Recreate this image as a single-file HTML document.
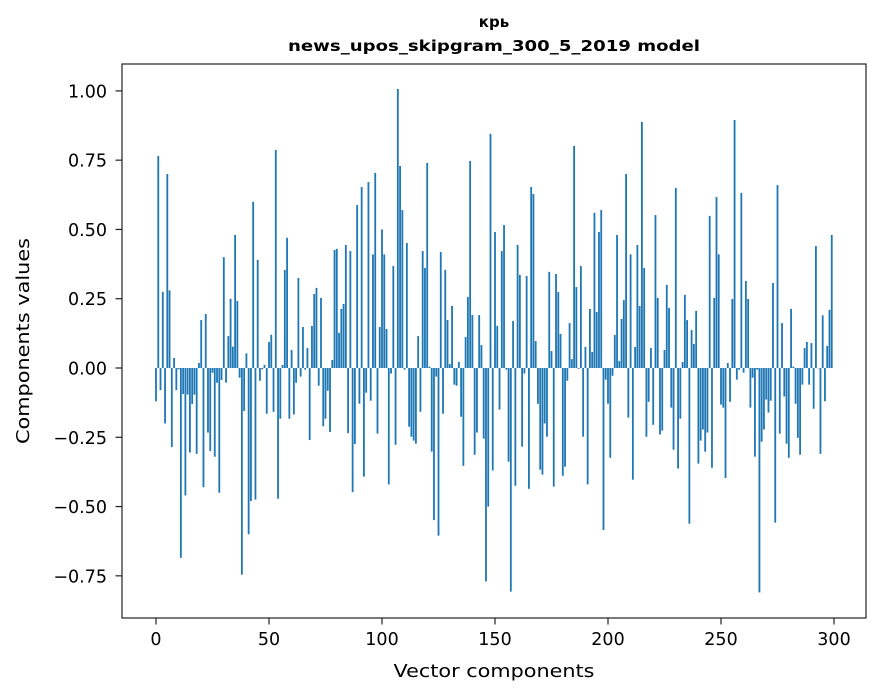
<!DOCTYPE html>
<html><head><meta charset="utf-8">
<style>
html,body{margin:0;padding:0;background:#fff;}
svg{display:block;font-family:"DejaVu Sans","Liberation Sans",sans-serif;}
</style></head>
<body>
<svg id="chart" width="880" height="696" xmlns="http://www.w3.org/2000/svg">
<rect width="880" height="696" fill="#fff"/>
<text x="494" y="27" text-anchor="middle" font-size="15" font-weight="bold">крь</text>
<text x="494" y="51" text-anchor="middle" font-size="15" font-weight="bold" textLength="412" lengthAdjust="spacingAndGlyphs">news_upos_skipgram_300_5_2019 model</text>
<g id="bars"></g>
<g id="yticks"></g>
<g id="xticks"></g>
<rect x="122" y="64" width="744" height="554" fill="none" stroke="#222" stroke-width="1.2"/>
<text x="494" y="677" text-anchor="middle" font-size="18" textLength="201" lengthAdjust="spacingAndGlyphs">Vector components</text>
<text x="0" y="0" transform="translate(29,341) rotate(-90)" text-anchor="middle" font-size="18" textLength="206" lengthAdjust="spacingAndGlyphs">Components values</text>
</svg>
<script>
const values = [-0.12,0.765,-0.08,0.275,-0.2,0.70,0.28,-0.285,0.036,-0.08,
-0.005,-0.685,-0.094,-0.46,-0.096,-0.305,-0.13,-0.096,-0.31,0.018,
0.173,-0.43,0.195,-0.233,-0.3,-0.017,-0.32,-0.053,-0.45,-0.043,
0.40,-0.053,0.115,0.25,0.077,0.48,0.242,-0.035,-0.746,-0.155,
0.053,-0.6,-0.48,0.60,-0.475,0.39,-0.046,-0.005,0.011,-0.165,
0.094,0.12,-0.158,0.787,-0.472,-0.183,0.011,0.354,0.47,-0.183,
0.065,-0.168,-0.053,0.325,-0.031,0.148,-0.006,0.072,-0.26,0.152,
0.267,0.289,-0.064,0.253,-0.21,-0.183,-0.082,-0.231,0.029,0.426,
0.43,0.126,0.213,0.231,0.444,-0.235,0.422,-0.448,-0.274,0.588,
-0.129,0.653,-0.392,-0.089,0.671,-0.118,0.41,0.704,-0.237,0.148,
0.50,0.41,0.141,-0.42,-0.02,0.368,-0.277,1.007,0.729,0.57,
-0.006,0.451,-0.212,-0.248,-0.262,-0.273,0.115,-0.158,0.422,0.361,
0.74,0.005,-0.302,-0.549,-0.031,-0.605,0.419,-0.165,0.354,0.173,
0.014,0.224,-0.06,-0.064,0.022,-0.176,-0.353,0.112,0.256,0.747,
0.191,-0.313,-0.233,0.191,0.083,-0.255,-0.77,-0.5,0.845,-0.37,
0.491,0.152,-0.15,0.422,0.516,-0.006,-0.338,-0.807,0.17,-0.425,
0.444,0.336,-0.284,-0.02,0.332,-0.436,0.653,0.628,0.097,-0.129,
-0.367,-0.385,-0.2,-0.248,0.347,0.061,-0.428,0.339,0.274,0.123,
-0.389,-0.356,-0.046,0.162,0.032,0.801,0.292,-0.003,0.368,-0.248,
0.076,-0.42,0.213,0.058,0.56,0.202,0.491,0.57,-0.585,-0.042,
-0.129,-0.324,-0.028,0.119,0.48,0.025,0.177,0.245,0.70,-0.179,
0.41,-0.403,0.076,0.444,0.224,0.888,0.361,-0.248,-0.122,0.072,
-0.205,0.552,0.253,-0.24,-0.226,0.065,0.3,0.217,-0.143,-0.295,
0.65,-0.363,-0.183,0.022,0.264,0.173,-0.562,0.137,0.087,0.206,
-0.345,-0.262,-0.222,-0.302,-0.233,0.549,-0.36,0.253,0.617,0.41,
-0.132,-0.143,-0.397,0.018,-0.122,0.249,0.895,-0.042,-0.006,0.632,
-0.017,0.314,0.249,-0.143,-0.035,-0.32,-0.006,-0.81,-0.266,-0.222,
-0.114,-0.161,-0.118,0.307,-0.558,0.66,-0.237,0.162,-0.103,-0.273,
-0.324,0.213,0.005,-0.129,-0.252,-0.313,-0.06,0.072,0.094,-0.06,
0.09,-0.147,0.44,0,-0.31,0.19,-0.12,0.08,0.21,0.48];
const yTickValues = [-0.75,-0.5,-0.25,0,0.25,0.5,0.75,1.0];
const yTickLabels = ["−0.75","−0.50","−0.25","0.00","0.25","0.50","0.75","1.00"];
const xTickValues = [0,50,100,150,200,250,300];
const xTickLabels = ["0","50","100","150","200","250","300"];

const NS = "http://www.w3.org/2000/svg";
function xScale(i){ return 156 + i*2.26; }
function yScale(v){ return 368 - v*277.1; }

const barsG = document.getElementById('bars');
values.forEach(function(v,i){
  const r = document.createElementNS(NS,'rect');
  const y0 = yScale(0), y1 = yScale(v);
  r.setAttribute('x', (xScale(i)-0.9).toFixed(2));
  r.setAttribute('width', '1.81');
  r.setAttribute('y', Math.min(y0,y1).toFixed(2));
  r.setAttribute('height', Math.max(Math.abs(y1-y0),0.3).toFixed(2));
  r.setAttribute('fill', '#1f77b4');
  
  
  barsG.appendChild(r);
});

const yG = document.getElementById('yticks');
yTickValues.forEach(function(v,k){
  const y = yScale(v);
  const l = document.createElementNS(NS,'line');
  l.setAttribute('x1',115.5); l.setAttribute('x2',122); l.setAttribute('y1',y); l.setAttribute('y2',y);
  l.setAttribute('stroke','#222'); l.setAttribute('stroke-width','1.2');
  
  
  yG.appendChild(l);
  const t = document.createElementNS(NS,'text');
  t.setAttribute('x',107); t.setAttribute('y',y+6.5);
  t.setAttribute('text-anchor','end'); t.setAttribute('font-size','17.5');
  t.textContent = yTickLabels[k];
  
  
  yG.appendChild(t);
});

const xG = document.getElementById('xticks');
xTickValues.forEach(function(v,k){
  const x = xScale(v);
  const l = document.createElementNS(NS,'line');
  l.setAttribute('x1',x); l.setAttribute('x2',x); l.setAttribute('y1',618); l.setAttribute('y2',624.5);
  l.setAttribute('stroke','#222'); l.setAttribute('stroke-width','1.2');
  
  
  xG.appendChild(l);
  const t = document.createElementNS(NS,'text');
  t.setAttribute('x',x); t.setAttribute('y',645);
  t.setAttribute('text-anchor','middle'); t.setAttribute('font-size','17.5');
  t.textContent = xTickLabels[k];
  
  
  xG.appendChild(t);
});
</script>
</body></html>
